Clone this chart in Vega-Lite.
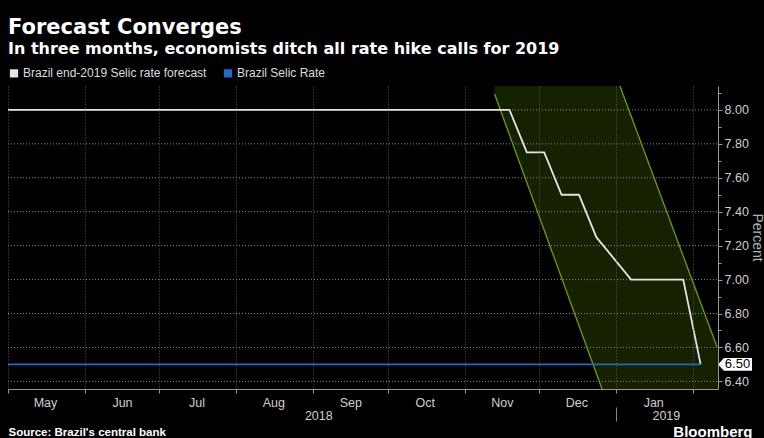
{
  "$schema": "https://vega.github.io/schema/vega-lite/v6.json",
  "width": 710,
  "height": 303,
  "autosize": {"type": "none"},
  "padding": {"left": 8, "top": 86, "right": 46, "bottom": 49},
  "background": "#000000",
  "config": {"view": {"stroke": null}, "font": "Liberation Sans"},
  "title": {
    "text": "Forecast Converges",
    "subtitle": "In three months, economists ditch all rate hike calls for 2019",
    "anchor": "start",
    "frame": "group",
    "orient": "top",
    "offset": 10,
    "font": "DejaVu Sans",
    "fontSize": 21,
    "fontWeight": "bold",
    "color": "#ffffff",
    "subtitleFont": "DejaVu Sans",
    "subtitleFontSize": 16,
    "subtitleFontWeight": "bold",
    "subtitleColor": "#ffffff",
    "subtitlePadding": 3
  },
  "datasets": {
    "series": [
      {"series": "Brazil end-2019 Selic rate forecast", "date": "2018-05-01", "v": 8.0},
      {"series": "Brazil end-2019 Selic rate forecast", "date": "2018-11-19", "v": 8.0},
      {"series": "Brazil end-2019 Selic rate forecast", "date": "2018-11-26", "v": 7.75},
      {"series": "Brazil end-2019 Selic rate forecast", "date": "2018-12-03", "v": 7.75},
      {"series": "Brazil end-2019 Selic rate forecast", "date": "2018-12-10", "v": 7.5},
      {"series": "Brazil end-2019 Selic rate forecast", "date": "2018-12-17", "v": 7.5},
      {"series": "Brazil end-2019 Selic rate forecast", "date": "2018-12-24", "v": 7.25},
      {"series": "Brazil end-2019 Selic rate forecast", "date": "2019-01-07", "v": 7.0},
      {"series": "Brazil end-2019 Selic rate forecast", "date": "2019-01-14", "v": 7.0},
      {"series": "Brazil end-2019 Selic rate forecast", "date": "2019-01-21", "v": 7.0},
      {"series": "Brazil end-2019 Selic rate forecast", "date": "2019-01-28", "v": 7.0},
      {"series": "Brazil end-2019 Selic rate forecast", "date": "2019-02-04", "v": 6.5},
      {"series": "Brazil Selic Rate", "date": "2018-05-01", "v": 6.5},
      {"series": "Brazil Selic Rate", "date": "2019-02-04", "v": 6.5}
    ],
    "band": [
      {"date": "2018-11-13T00:00:00Z", "top": 8.141, "bottom": 8.094},
      {"date": "2018-12-26T07:00:00Z", "top": 8.141, "bottom": 6.355},
      {"date": "2019-01-02T12:00:00Z", "top": 8.141, "bottom": 6.355},
      {"date": "2019-02-10T14:00:00Z", "top": 6.604, "bottom": 6.355},
      {"date": "2019-02-11T00:00:00Z", "top": 6.604, "bottom": 6.355}
    ],
    "edges": [
      {"edge": "left", "date": "2018-11-13T00:00:00Z", "v": 8.094},
      {"edge": "left", "date": "2018-12-26T07:00:00Z", "v": 6.355},
      {"edge": "right", "date": "2019-01-02T12:00:00Z", "v": 8.141},
      {"edge": "right", "date": "2019-02-10T14:00:00Z", "v": 6.604}
    ],
    "gridlines": [
      {"v": 6.4, "start": "2018-05-01T00:00:00Z", "end": "2019-02-11T00:00:00Z"},
      {"v": 6.6, "start": "2018-05-01T00:00:00Z", "end": "2019-02-11T00:00:00Z"},
      {"v": 6.8, "start": "2018-05-01T00:00:00Z", "end": "2019-02-11T00:00:00Z"},
      {"v": 7.0, "start": "2018-05-01T00:00:00Z", "end": "2019-02-11T00:00:00Z"},
      {"v": 7.2, "start": "2018-05-01T00:00:00Z", "end": "2019-02-11T00:00:00Z"},
      {"v": 7.4, "start": "2018-05-01T00:00:00Z", "end": "2019-02-11T00:00:00Z"},
      {"v": 7.6, "start": "2018-05-01T00:00:00Z", "end": "2019-02-11T00:00:00Z"},
      {"v": 7.8, "start": "2018-05-01T00:00:00Z", "end": "2019-02-11T00:00:00Z"},
      {"v": 8.0, "start": "2018-05-01T00:00:00Z", "end": "2019-02-11T00:00:00Z"}
    ],
    "callout": [
      {"date": "2019-02-11T00:00:00Z", "v": 6.5, "label": "6.50"}
    ]
  },
  "resolve": {"axis": {"x": "independent", "y": "independent"}, "scale": {"x": "shared", "y": "shared"}},
  "layer": [
    {
      "data": {"name": "band"},
      "mark": {"type": "area", "color": "#162100", "opacity": 1},
      "encoding": {
        "y": {
          "field": "top",
          "type": "quantitative",
          "scale": {"domain": [6.355, 8.141], "nice": false, "zero": false},
          "axis": {
            "orient": "right",
            "values": [6.4, 6.6, 6.8, 7.0, 7.2, 7.4, 7.6, 7.8, 8.0],
            "format": ".2f",
            "labelColor": "#cfcfcf",
            "labelFontSize": 12.5,
            "labelPadding": 2,
            "labelOverlap": false,
            "labelFlush": false,
            "tickSize": 4,
            "tickColor": "#999999",
            "domainColor": "#999999",
            "grid": false,
            "zindex": 1,
            "title": "Percent",
            "titleAngle": 90,
            "titleX": 38,
            "titleY": 151,
            "titleAlign": "center",
            "titleBaseline": "middle",
            "titleColor": "#b0b0b0",
            "titleFontSize": 14,
            "titleFontWeight": "normal"
          }
        },
        "y2": {"field": "bottom"},
        "x": {"field": "date", "type": "temporal", "scale": {"type": "utc", "domain": [1525132800000, 1549843200000], "nice": false}, "axis": null}
      }
    },
    {
      "data": {"name": "gridlines"},
      "mark": {"type": "rule", "color": "#8a8a8a", "strokeWidth": 1, "strokeDash": [1, 2]},
      "encoding": {
        "y": {"field": "v", "type": "quantitative", "scale": {"domain": [6.355, 8.141], "nice": false, "zero": false}, "axis": null},
        "x": {"field": "start", "type": "temporal", "scale": {"type": "utc", "domain": [1525132800000, 1549843200000], "nice": false}, "axis": null},
        "x2": {"field": "end"}
      }
    },
    {
      "data": {"name": "edges"},
      "mark": {"type": "line", "color": "#6f9c0a", "strokeWidth": 1.3},
      "encoding": {
        "y": {
          "field": "v",
          "type": "quantitative",
          "scale": {"domain": [6.355, 8.141], "nice": false, "zero": false},
          "axis": {
            "orient": "right",
            "values": [6.5, 6.7, 6.9, 7.1, 7.3, 7.5, 7.7, 7.9, 8.1],
            "labels": false,
            "domain": false,
            "grid": false,
            "tickSize": 3,
            "tickColor": "#999999",
            "title": null
          }
        },
        "x": {
          "field": "date",
          "type": "temporal",
          "scale": {"type": "utc", "domain": [1525132800000, 1549843200000], "nice": false},
          "axis": {
            "orient": "bottom",
            "values": [
              {"year": 2018, "month": 9, "date": 3, "utc": true},
              {"year": 2019, "month": 1, "date": 1, "utc": true},
              {"year": 2019, "month": 1, "date": 21, "utc": true}
            ],
            "labelExpr": "utcdate(datum.value) == 1 ? '' : utcFormat(datum.value, '%Y')",
            "offset": 18,
            "domain": false,
            "grid": false,
            "tickSize": 14,
            "tickColor": "#888888",
            "tickOpacity": {"condition": {"test": "utcdate(datum.value) == 1", "value": 1}, "value": 0},
            "labelPadding": -12,
            "labelColor": "#cfcfcf",
            "labelFontSize": 12.5,
            "labelFlush": false,
            "labelOverlap": false,
            "title": "Bloomberg",
            "titleX": 744,
            "titleY": 29,
            "titleAlign": "right",
            "titleAnchor": "end",
            "titleBaseline": "alphabetic",
            "titleFontSize": 15,
            "titleFontWeight": "bold",
            "titleColor": "#ffffff"
          }
        },
        "detail": {"field": "edge", "type": "nominal"}
      }
    },
    {
      "data": {"name": "series"},
      "mark": {"type": "line", "strokeWidth": 1.8},
      "encoding": {
        "y": {"field": "v", "type": "quantitative", "scale": {"domain": [6.355, 8.141], "nice": false, "zero": false}, "axis": null},
        "x": {
          "field": "date",
          "type": "temporal",
          "scale": {"type": "utc", "domain": [1525132800000, 1549843200000], "nice": false},
          "axis": {
            "orient": "bottom",
            "tickCount": {"interval": "month", "step": 1},
            "labelExpr": "utcmonth(datum.value) == 1 ? '' : utcFormat(datum.value, '%b')",
            "labelOffset": 37,
            "labelAlign": "center",
            "labelFlush": false,
            "labelOverlap": false,
            "labelColor": "#cfcfcf",
            "labelFontSize": 12.5,
            "labelPadding": 3,
            "tickSize": 4,
            "tickColor": "#999999",
            "domainColor": "#999999",
            "grid": true,
            "gridColor": "#5a5a5a",
            "gridDash": [1, 2],
            "zindex": 1,
            "title": "Source: Brazil's central bank",
            "titleX": 0,
            "titleY": 46,
            "titleAlign": "left",
            "titleAnchor": "start",
            "titleBaseline": "alphabetic",
            "titleFontSize": 11.5,
            "titleFontWeight": "bold",
            "titleColor": "#ffffff"
          }
        },
        "color": {
          "field": "series",
          "type": "nominal",
          "scale": {"domain": ["Brazil end-2019 Selic rate forecast", "Brazil Selic Rate"], "range": ["#e4e4e4", "#1f6cc4"]},
          "legend": {
            "orient": "none",
            "legendX": 0,
            "legendY": -19,
            "direction": "horizontal",
            "title": null,
            "symbolType": "square",
            "symbolSize": 18,
            "symbolStrokeWidth": 4,
            "labelColor": "#dddddd",
            "labelFontSize": 12,
            "labelFont": "Liberation Sans",
            "labelLimit": 300,
            "columnPadding": 10,
            "labelOffset": 3,
            "symbolOffset": 0
          }
        }
      }
    },
    {
      "data": {"name": "callout"},
      "mark": {"type": "point", "shape": "M-1,0L-0.65,-0.38L1,-0.38L1,0.38L-0.65,0.38Z", "size": 1156, "filled": true, "color": "#ffffff", "opacity": 1, "xOffset": 17},
      "encoding": {
        "y": {"field": "v", "type": "quantitative", "scale": {"domain": [6.355, 8.141], "nice": false, "zero": false}, "axis": null},
        "x": {"field": "date", "type": "temporal", "scale": {"type": "utc", "domain": [1525132800000, 1549843200000], "nice": false}, "axis": null}
      }
    },
    {
      "data": {"name": "callout"},
      "mark": {"type": "text", "color": "#000000", "fontSize": 13, "align": "center", "baseline": "middle", "xOffset": 19.5},
      "encoding": {
        "y": {"field": "v", "type": "quantitative", "scale": {"domain": [6.355, 8.141], "nice": false, "zero": false}, "axis": null},
        "x": {"field": "date", "type": "temporal", "scale": {"type": "utc", "domain": [1525132800000, 1549843200000], "nice": false}, "axis": null},
        "text": {"field": "label", "type": "nominal"}
      }
    }
  ]
}
